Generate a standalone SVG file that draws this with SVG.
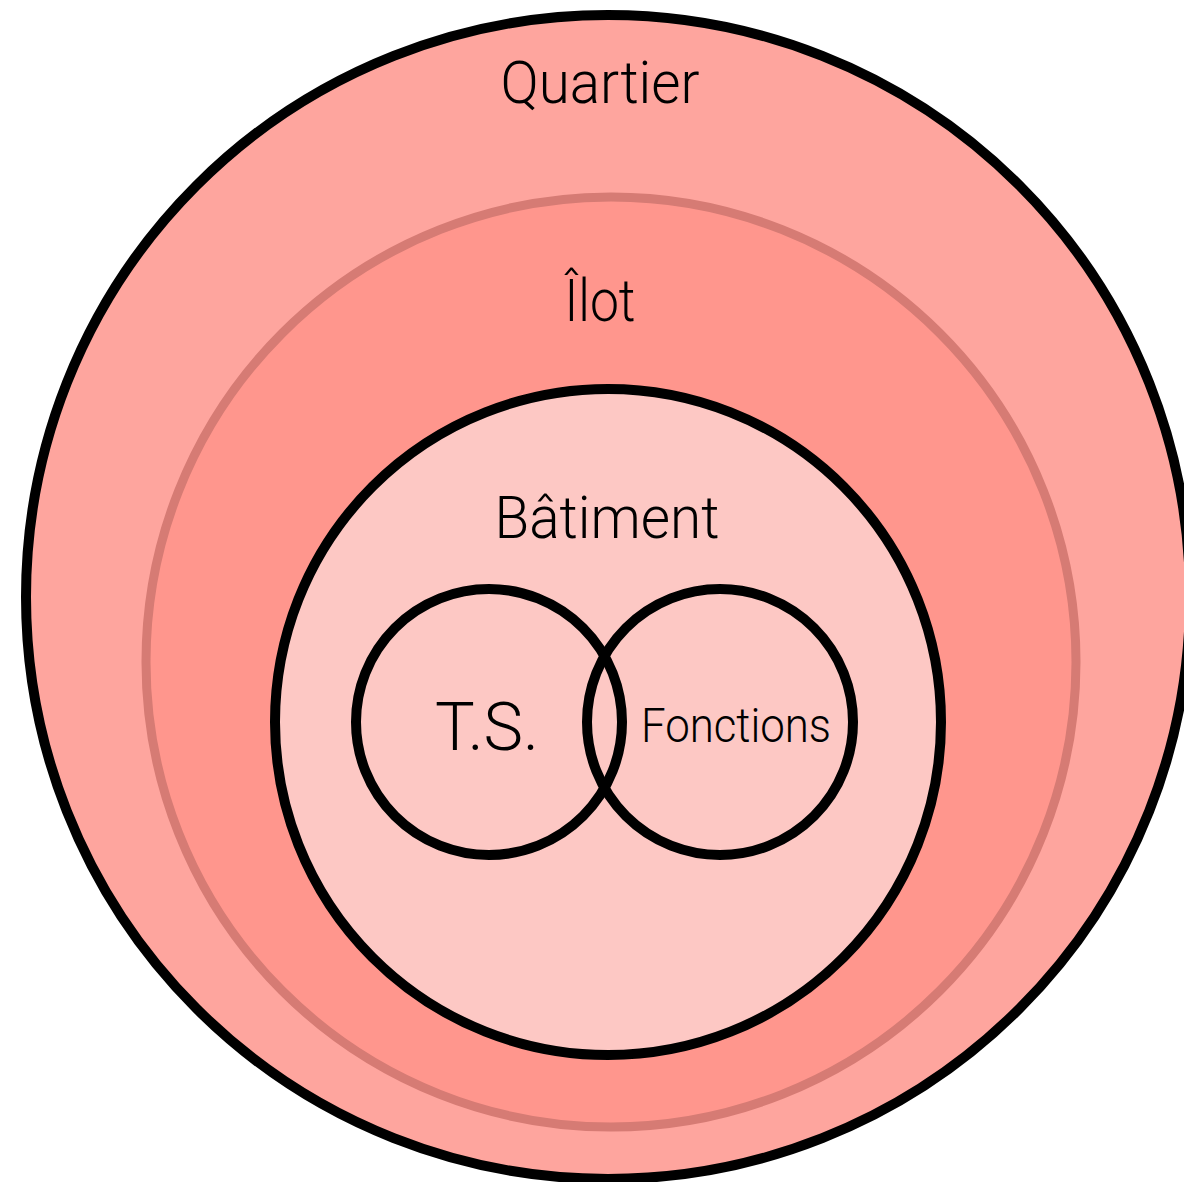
<svg xmlns="http://www.w3.org/2000/svg" width="1184" height="1182" viewBox="0 0 1184 1182">
<style>
.lbl{font-family:Roboto,"Liberation Sans",sans-serif;font-weight:300;fill:#000;text-anchor:middle}
.blk{stroke:#000;stroke-width:10}
</style>
<rect width="1184" height="1182" fill="#fff"/>
<g id="quartier">
<circle cx="608" cy="597" r="582" fill="#fea59e" class="blk"/>
<text class="lbl" x="600" y="103" font-size="60" textLength="199" lengthAdjust="spacingAndGlyphs">Quartier</text>
</g>
<g id="ilot">
<circle cx="611" cy="662" r="465" fill="#ff968d" stroke="#d67b74" stroke-width="9"/>
<text class="lbl" x="600" y="321" font-size="60" textLength="71" lengthAdjust="spacingAndGlyphs">Îlot</text>
</g>
<g id="batiment">
<circle cx="608" cy="722" r="333" fill="#fdc8c4" class="blk"/>
<text class="lbl" x="607" y="538" font-size="60" textLength="225" lengthAdjust="spacingAndGlyphs">Bâtiment</text>
</g>
<g id="ts">
<circle cx="489" cy="722" r="133" fill="none" class="blk"/>
<text class="lbl" x="487" y="750" font-size="66" textLength="104" lengthAdjust="spacingAndGlyphs">T.S.</text>
</g>
<g id="fonctions">
<circle cx="720" cy="722" r="133" fill="none" class="blk"/>
<text class="lbl" x="736" y="742" font-size="48" textLength="190" lengthAdjust="spacingAndGlyphs">Fonctions</text>
</g>
<g id="connectors"/>
</svg>
